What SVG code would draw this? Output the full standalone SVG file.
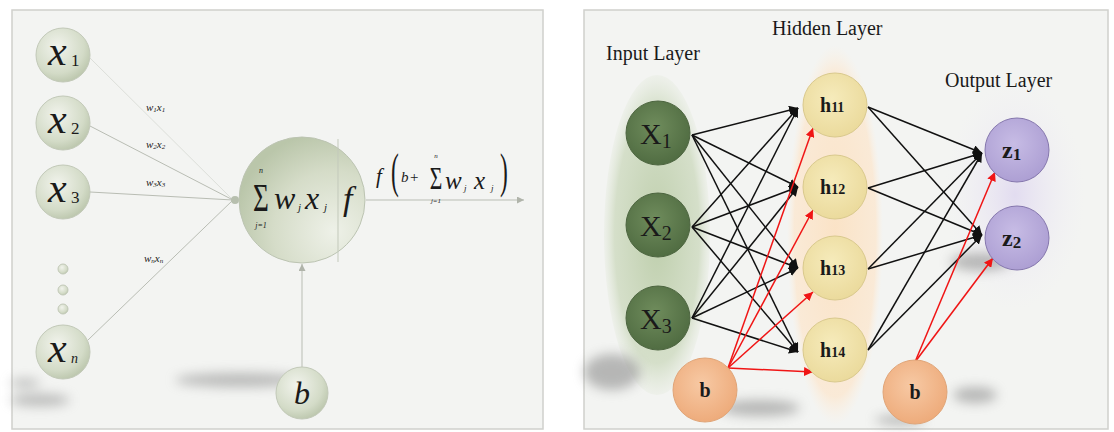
<svg xmlns="http://www.w3.org/2000/svg" width="1114" height="432" viewBox="0 0 1114 432">
<defs>
<style>
.panel{fill:#f3f4f2;stroke:#cfd0cc;stroke-width:1.5}
.math{font-family:"Liberation Serif","DejaVu Serif",serif;font-style:italic;fill:#1a1a1a}
.rm{font-family:"Liberation Serif","DejaVu Serif",serif;fill:#1a1a1a}
.bd{font-family:"Liberation Serif","DejaVu Serif",serif;font-weight:bold;fill:#1a1a1a}
.thin{stroke:#b9bdb4;stroke-width:1;fill:none}
.blk{stroke:#111;stroke-width:1.5;fill:none;marker-end:url(#ab)}
.red{stroke:#f01515;stroke-width:1.5;fill:none;marker-end:url(#ar)}
.lnode{fill:url(#gL);stroke:#c2c9b8;stroke-width:1}
.xnode{fill:url(#gX);stroke:#4d6540;stroke-width:1}
.hnode{fill:url(#gH);stroke:#d9c98d;stroke-width:1}
.znode{fill:url(#gZ);stroke:#8577ad;stroke-width:1}
.bnode{fill:url(#gB);stroke:#e0a578;stroke-width:1}
</style>
<radialGradient id="gL" cx="0.4" cy="0.35" r="0.7"><stop offset="0" stop-color="#f1f3ec"/><stop offset="0.7" stop-color="#d3dbc7"/><stop offset="1" stop-color="#b9c4aa"/></radialGradient>
<radialGradient id="gS" cx="0.75" cy="0.75" r="0.8"><stop offset="0" stop-color="#eef1e8"/><stop offset="0.6" stop-color="#d5dcc8"/><stop offset="1" stop-color="#bac6aa"/></radialGradient>
<radialGradient id="gX" cx="0.45" cy="0.4" r="0.65"><stop offset="0" stop-color="#6f8c5c"/><stop offset="1" stop-color="#4e6a40"/></radialGradient>
<radialGradient id="gH" cx="0.45" cy="0.4" r="0.65"><stop offset="0" stop-color="#f6ebbb"/><stop offset="1" stop-color="#ead99a"/></radialGradient>
<radialGradient id="gZ" cx="0.45" cy="0.4" r="0.65"><stop offset="0" stop-color="#c7bce5"/><stop offset="1" stop-color="#ab9dd2"/></radialGradient>
<radialGradient id="gB" cx="0.45" cy="0.4" r="0.65"><stop offset="0" stop-color="#f7c9a4"/><stop offset="1" stop-color="#eda978"/></radialGradient>
<radialGradient id="gIn" cx="0.5" cy="0.5" r="0.5"><stop offset="0" stop-color="#b8caa4" stop-opacity="0.9"/><stop offset="0.8" stop-color="#c8d6b8" stop-opacity="0.7"/><stop offset="1" stop-color="#d8e2cc" stop-opacity="0.2"/></radialGradient>
<radialGradient id="gHid" cx="0.5" cy="0.5" r="0.5"><stop offset="0" stop-color="#fbe2c4" stop-opacity="0.95"/><stop offset="0.85" stop-color="#fbe8d2" stop-opacity="0.85"/><stop offset="1" stop-color="#fbf0e2" stop-opacity="0"/></radialGradient>
<radialGradient id="gOut" cx="0.5" cy="0.5" r="0.5"><stop offset="0" stop-color="#e2dcf0"/><stop offset="1" stop-color="#f0eef4" stop-opacity="0"/></radialGradient>
<filter id="blur" x="-50%" y="-50%" width="200%" height="200%"><feGaussianBlur stdDeviation="6"/></filter>
<marker id="ab" viewBox="0 0 10 10" refX="10" refY="5" markerWidth="9" markerHeight="9" markerUnits="userSpaceOnUse" orient="auto"><path d="M0,0 L10,5 L0,10 Z" fill="#111"/></marker>
<marker id="ar" viewBox="0 0 10 10" refX="10" refY="5" markerWidth="9" markerHeight="9" markerUnits="userSpaceOnUse" orient="auto"><path d="M0,0 L10,5 L0,10 Z" fill="#f01515"/></marker>
<marker id="ag" viewBox="0 0 10 10" refX="10" refY="5" markerWidth="7" markerHeight="7" markerUnits="userSpaceOnUse" orient="auto"><path d="M0,0 L10,5 L0,10 Z" fill="#b0b4aa"/></marker>
</defs>
<rect width="1114" height="432" fill="#ffffff"/>

<!-- LEFT PANEL -->
<rect class="panel" x="12" y="10" width="531" height="419"/>
<g id="left-shadows" fill="#8a8a8a" opacity="0.55" filter="url(#blur)">
<ellipse cx="240" cy="380" rx="65" ry="7"/>
<ellipse cx="40" cy="400" rx="30" ry="6"/>
<ellipse cx="25" cy="383" rx="15" ry="4"/>
</g>

<g id="left-connectors">
<line class="thin" x1="90" y1="58" x2="233" y2="200" stroke-opacity="0.4"/>
<line class="thin" x1="90" y1="126" x2="233" y2="200"/>
<line class="thin" x1="90" y1="192" x2="233" y2="200"/>
<line class="thin" x1="88" y1="340" x2="233" y2="200"/>
<circle cx="235" cy="200" r="4" fill="#b7bfae"/>
<line class="thin" x1="302" y1="367" x2="302" y2="264" marker-end="url(#ag)"/>
<line class="thin" x1="366" y1="200" x2="524" y2="200" marker-end="url(#ag)"/>
</g>

<g id="weights" class="math" font-size="11">
<text x="146" y="111">w<tspan font-size="7" dy="1">1</tspan><tspan dy="-1">x</tspan><tspan font-size="7" dy="1">1</tspan></text>
<text x="146" y="148">w<tspan font-size="7" dy="1">2</tspan><tspan dy="-1">x</tspan><tspan font-size="7" dy="1">2</tspan></text>
<text x="146" y="186">w<tspan font-size="7" dy="1">3</tspan><tspan dy="-1">x</tspan><tspan font-size="7" dy="1">3</tspan></text>
<text x="144" y="262">w<tspan font-size="7" dy="1">n</tspan><tspan dy="-1">x</tspan><tspan font-size="7" dy="1">n</tspan></text>
</g>

<g id="x1"><circle class="lnode" cx="63" cy="55" r="27"/><text class="math" x="48" y="65" font-size="42">x</text><text class="rm" x="71" y="66" font-size="17">1</text></g>
<g id="x2"><circle class="lnode" cx="63" cy="123" r="27"/><text class="math" x="48" y="133" font-size="42">x</text><text class="rm" x="71" y="134" font-size="17">2</text></g>
<g id="x3"><circle class="lnode" cx="63" cy="192" r="27"/><text class="math" x="48" y="202" font-size="42">x</text><text class="rm" x="71" y="203" font-size="17">3</text></g>
<g id="dots">
<circle class="lnode" cx="63" cy="269" r="5"/>
<circle class="lnode" cx="63" cy="290" r="5"/>
<circle class="lnode" cx="63" cy="309" r="5"/>
</g>
<g id="xn"><circle class="lnode" cx="63" cy="352" r="27"/><text class="math" x="48" y="362" font-size="42">x</text><text class="math" x="71" y="363" font-size="14">n</text></g>

<g id="neuron">
<circle cx="302" cy="200" r="63" fill="url(#gS)" stroke="#bcc4b2" stroke-width="1"/>
<line x1="338" y1="139" x2="338" y2="262" stroke="#c3c9bb" stroke-width="1"/>
<text class="rm" transform="translate(261,211) scale(0.8,1.2)" font-size="34" text-anchor="middle">Σ</text>
<text class="math" x="261" y="173" font-size="8" text-anchor="middle">n</text>
<text class="math" x="261" y="228" font-size="8" text-anchor="middle">j=1</text>
<text class="math" x="274" y="209" font-size="32">w</text>
<text class="math" x="298" y="211" font-size="11">j</text>
<text class="math" x="305" y="209" font-size="32">x</text>
<text class="math" x="324" y="211" font-size="11">j</text>
<text class="math" x="343" y="210" font-size="34">f</text>
</g>

<g id="output-formula">
<text class="math" x="376" y="183" font-size="21">f</text>
<text class="rm" transform="translate(391,187) scale(0.9,1.9)" font-size="26" fill="#333">(</text>
<text class="math" x="401" y="182" font-size="15">b</text>
<text class="rm" x="410" y="182" font-size="15">+</text>
<text class="rm" transform="translate(436,189) scale(0.8,1.2)" font-size="27" text-anchor="middle">Σ</text>
<text class="math" x="436" y="158" font-size="7" text-anchor="middle">n</text>
<text class="math" x="436" y="203" font-size="7" text-anchor="middle">j=1</text>
<text class="math" x="445" y="189" font-size="25">w</text>
<text class="math" x="464" y="191" font-size="9">j</text>
<text class="math" x="474" y="189" font-size="25">x</text>
<text class="math" x="491" y="191" font-size="9">j</text>
<text class="rm" transform="translate(500,187) scale(0.9,1.9)" font-size="26" fill="#333">)</text>
</g>

<g id="b-left"><circle class="lnode" cx="302" cy="393" r="26"/><text class="math" x="302" y="404" font-size="32" text-anchor="middle">b</text></g>

<!-- RIGHT PANEL -->
<rect class="panel" x="584" y="10" width="524" height="419"/>
<g id="backgrounds">
<ellipse cx="1015" cy="195" rx="70" ry="115" fill="url(#gOut)"/>
<ellipse cx="835" cy="235" rx="48" ry="190" fill="url(#gHid)"/>
<ellipse cx="657" cy="235" rx="53" ry="160" fill="url(#gIn)"/>
</g>
<g id="right-shadows" fill="#7a7a7a" opacity="0.5" filter="url(#blur)">
<ellipse cx="612" cy="372" rx="28" ry="18"/>
<ellipse cx="760" cy="408" rx="40" ry="8"/>
<ellipse cx="980" cy="262" rx="30" ry="9"/>
<ellipse cx="975" cy="395" rx="22" ry="8"/>
<ellipse cx="900" cy="420" rx="25" ry="5"/>
</g>

<g id="titles" class="rm" font-size="20">
<text x="606" y="60">Input Layer</text>
<text x="772" y="35">Hidden Layer</text>
<text x="945" y="87">Output Layer</text>
</g>

<g id="connectors">
<line class="blk" x1="692" y1="135" x2="798" y2="108"/>
<line class="blk" x1="692" y1="135" x2="798" y2="187"/>
<line class="blk" x1="692" y1="135" x2="798" y2="268"/>
<line class="blk" x1="692" y1="135" x2="798" y2="352"/>
<line class="blk" x1="692" y1="227" x2="798" y2="108"/>
<line class="blk" x1="692" y1="227" x2="798" y2="187"/>
<line class="blk" x1="692" y1="227" x2="798" y2="268"/>
<line class="blk" x1="692" y1="227" x2="798" y2="352"/>
<line class="blk" x1="692" y1="318" x2="798" y2="108"/>
<line class="blk" x1="692" y1="318" x2="798" y2="187"/>
<line class="blk" x1="692" y1="318" x2="798" y2="268"/>
<line class="blk" x1="692" y1="318" x2="798" y2="352"/>
<line class="red" x1="728" y1="368" x2="813" y2="128"/>
<line class="red" x1="728" y1="368" x2="813" y2="210"/>
<line class="red" x1="728" y1="368" x2="813" y2="292"/>
<line class="red" x1="728" y1="368" x2="813" y2="372"/>
<line class="blk" x1="868" y1="107" x2="982" y2="153"/>
<line class="blk" x1="868" y1="107" x2="982" y2="235"/>
<line class="blk" x1="868" y1="188" x2="982" y2="153"/>
<line class="blk" x1="868" y1="188" x2="982" y2="235"/>
<line class="blk" x1="868" y1="269" x2="982" y2="153"/>
<line class="blk" x1="868" y1="269" x2="982" y2="235"/>
<line class="blk" x1="868" y1="350" x2="982" y2="153"/>
<line class="blk" x1="868" y1="350" x2="982" y2="235"/>
<line class="red" x1="915" y1="362" x2="995" y2="172"/>
<line class="red" x1="915" y1="362" x2="993" y2="258"/>
</g>

<g id="X1"><circle class="xnode" cx="658" cy="133" r="32"/><text class="rm" x="640" y="144" font-size="30">X<tspan font-size="20" dy="4">1</tspan></text></g>
<g id="X2"><circle class="xnode" cx="658" cy="225" r="32"/><text class="rm" x="640" y="236" font-size="30">X<tspan font-size="20" dy="4">2</tspan></text></g>
<g id="X3"><circle class="xnode" cx="658" cy="318" r="32"/><text class="rm" x="640" y="329" font-size="30">X<tspan font-size="20" dy="4">3</tspan></text></g>
<g id="b-in"><circle class="bnode" cx="705" cy="390" r="32"/><text class="bd" x="705" y="397" font-size="20" text-anchor="middle">b</text></g>

<g id="h11"><circle class="hnode" cx="835" cy="105" r="32"/><text class="bd" x="820" y="112" font-size="20">h<tspan font-size="14">11</tspan></text></g>
<g id="h12"><circle class="hnode" cx="835" cy="187" r="32"/><text class="bd" x="820" y="194" font-size="20">h<tspan font-size="14">12</tspan></text></g>
<g id="h13"><circle class="hnode" cx="835" cy="268" r="32"/><text class="bd" x="820" y="275" font-size="20">h<tspan font-size="14">13</tspan></text></g>
<g id="h14"><circle class="hnode" cx="835" cy="350" r="32"/><text class="bd" x="820" y="357" font-size="20">h<tspan font-size="14">14</tspan></text></g>

<g id="z1"><circle class="znode" cx="1017" cy="150" r="32"/><text class="bd" x="1002" y="158" font-size="24">z<tspan font-size="17" dy="2">1</tspan></text></g>
<g id="z2"><circle class="znode" cx="1017" cy="238" r="32"/><text class="bd" x="1002" y="246" font-size="24">z<tspan font-size="17" dy="2">2</tspan></text></g>
<g id="b-out"><circle class="bnode" cx="915" cy="392" r="32"/><text class="bd" x="915" y="399" font-size="20" text-anchor="middle">b</text></g>
</svg>
